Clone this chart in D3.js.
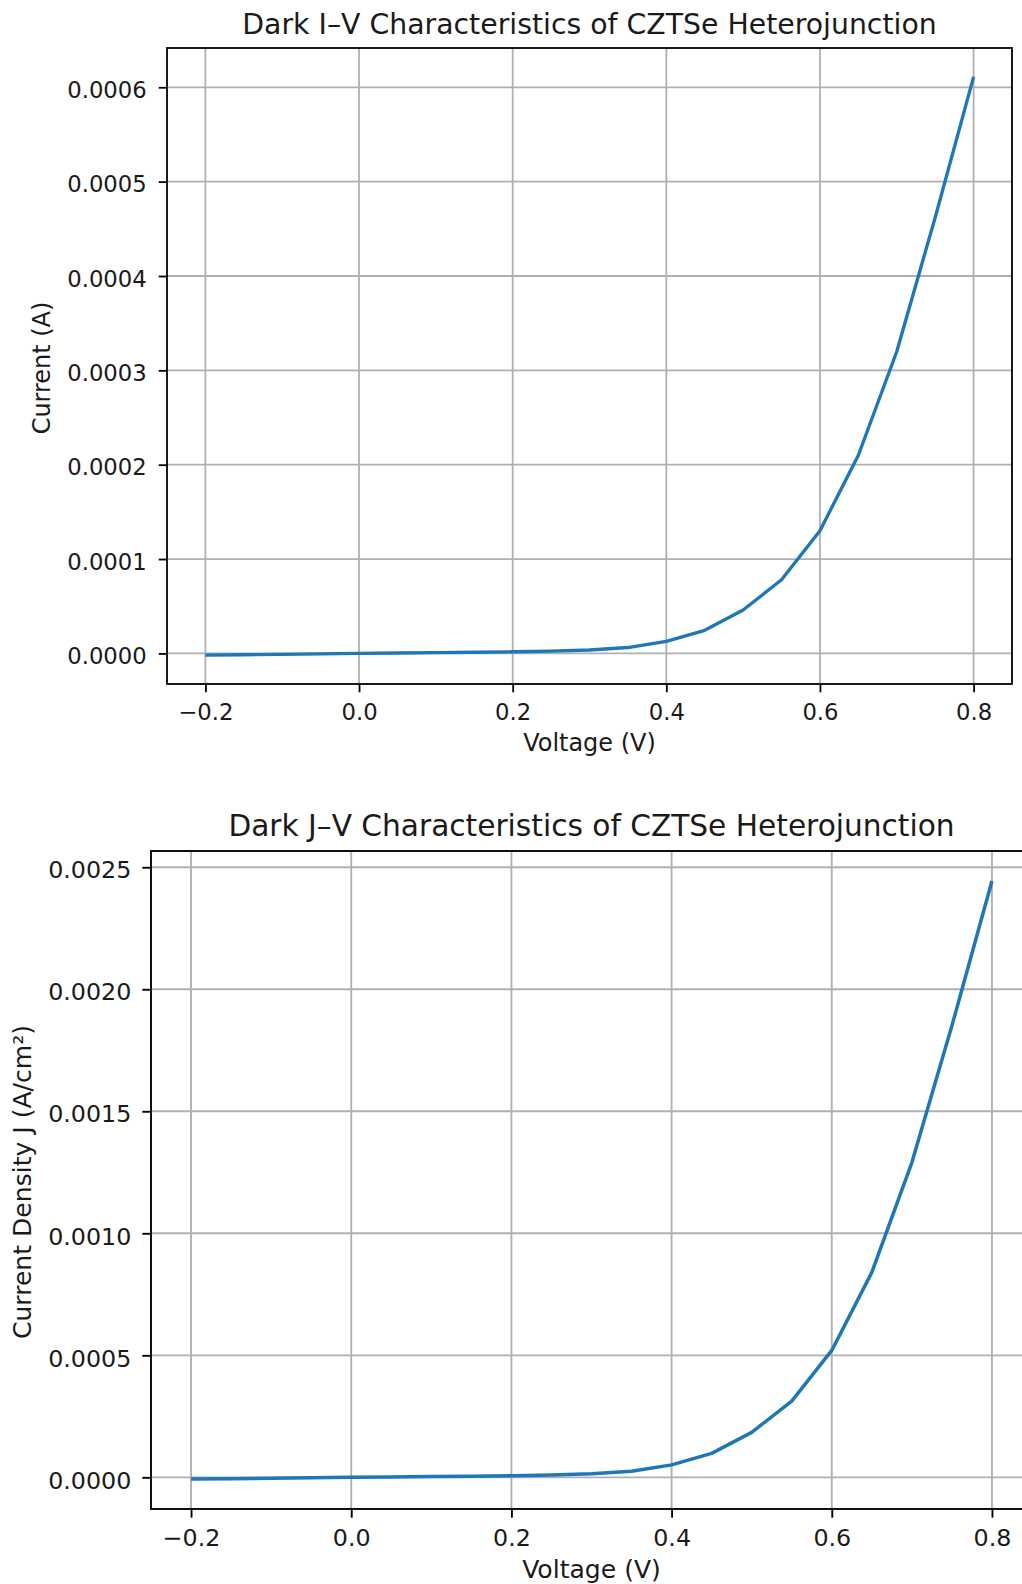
<!DOCTYPE html>
<html>
<head>
<meta charset="utf-8">
<script src="https://cdn.jsdelivr.net/npm/d3@7"></script>
<style>
  html, body { margin: 0; padding: 0; background: #fff; }
  svg { display: block; }
  text { font-family: "DejaVu Sans", sans-serif; fill: #1a1a1a; }
</style>
</head>
<body>
<svg id="fig" width="1022" height="1584"></svg>
<script>
// Bias voltage sweep (V)
const voltage = [-0.2, -0.15, -0.1, -0.05, 0.0, 0.05, 0.1, 0.15, 0.2, 0.25, 0.3,
                 0.35, 0.4, 0.45, 0.5, 0.55, 0.6, 0.65, 0.7, 0.75, 0.8];

// Dark current (A)
const current = [-1.8e-6, -1.4e-6, -1.0e-6, -0.5e-6, 0.0, 0.4e-6, 0.8e-6, 1.2e-6, 1.7e-6, 2.4e-6, 3.6e-6,
                 6.2e-6, 1.27e-5, 2.45e-5, 4.6e-5, 7.8e-5, 1.3e-4, 2.1e-4, 3.2e-4, 4.62e-4, 6.11e-4];

// Dark current density (A/cm²)
const currentDensity = [-7.2e-6, -5.6e-6, -4.0e-6, -2.0e-6, 0.0, 1.6e-6, 3.2e-6, 4.8e-6, 6.8e-6, 9.6e-6, 1.44e-5,
                        2.5e-5, 5.1e-5, 9.8e-5, 1.84e-4, 3.12e-4, 5.2e-4, 8.4e-4, 1.29e-3, 1.85e-3, 2.444e-3];

// Tick values
const voltageTicks = [-0.2, 0.0, 0.2, 0.4, 0.6, 0.8];
const currentTicks = [0.0, 0.0001, 0.0002, 0.0003, 0.0004, 0.0005, 0.0006];
const densityTicks = [0.0, 0.0005, 0.0010, 0.0015, 0.0020, 0.0025];

// Titles and axis labels
const titles = ["Dark I–V Characteristics of CZTSe Heterojunction",
                "Dark J–V Characteristics of CZTSe Heterojunction"];
const xLabels = ["Voltage (V)", "Voltage (V)"];
const yLabels = ["Current (A)", "Current Density J (A/cm²)"];

const svg = d3.select("#fig");

// Pad an extent by 5% on both sides
function padded(ext) {
  const m = (ext[1] - ext[0]) * 0.05;
  return [ext[0] - m, ext[1] + m];
}

function drawPanel(p) {
  const s = p.scale;               // px per point
  const fTick = 10.15 * s, fTitle = 12.65 * s, fLabel = 10.7 * s;
  const tickLen = 3.7 * s, lw = 0.8 * s;

  const x = d3.scaleLinear().domain(padded(d3.extent(p.xs))).range([p.left, p.right]);
  const y = d3.scaleLinear().domain(padded(d3.extent(p.ys))).range([p.bottom, p.top]);

  const g = svg.append("g");
  const clipId = "clip" + p.id;
  g.append("clipPath").attr("id", clipId)
    .append("rect").attr("x", p.left).attr("y", p.top)
    .attr("width", p.right - p.left).attr("height", p.bottom - p.top);

  // grid
  const grid = g.append("g").attr("clip-path", `url(#${clipId})`);
  grid.selectAll("line.gx").data(p.xTicks).join("line")
    .attr("x1", d => x(d)).attr("x2", d => x(d))
    .attr("y1", p.top).attr("y2", p.bottom)
    .attr("stroke", "#b0b0b0").attr("stroke-width", lw);
  grid.selectAll("line.gy").data(p.yTicks).join("line")
    .attr("x1", p.left).attr("x2", p.right)
    .attr("y1", d => y(d)).attr("y2", d => y(d))
    .attr("stroke", "#b0b0b0").attr("stroke-width", lw);

  // data line
  const line = d3.line().x((d, i) => x(p.xs[i])).y(d => y(d));
  grid.append("path").datum(p.ys)
    .attr("d", line).attr("fill", "none")
    .attr("stroke", "#1f77b4").attr("stroke-width", 1.5 * s)
    .attr("stroke-linejoin", "round").attr("stroke-linecap", "butt");

  // axes
  const xAxis = d3.axisBottom(x).tickValues(p.xTicks).tickFormat(d3.format(".1f"))
    .tickSize(tickLen).tickPadding(p.xPad);
  const xg = g.append("g").attr("transform", `translate(0,${p.bottom})`).call(xAxis);
  const yAxis = d3.axisLeft(y).tickValues(p.yTicks).tickFormat(d3.format(".4f"))
    .tickSize(tickLen).tickPadding(p.yPad);
  const yg = g.append("g").attr("transform", `translate(${p.left},0)`).call(yAxis);

  [xg, yg].forEach(a => {
    a.select(".domain").remove();
    a.selectAll(".tick line").attr("stroke", "#000").attr("stroke-width", lw);
    a.selectAll(".tick text").attr("font-size", fTick)
      .attr("font-family", "DejaVu Sans").attr("fill", "#1a1a1a");
  });
  yg.selectAll(".tick text").attr("dy", "0.45em");

  // spines
  g.append("rect").attr("x", p.left).attr("y", p.top)
    .attr("width", p.right - p.left).attr("height", p.bottom - p.top)
    .attr("fill", "none").attr("stroke", "#000").attr("stroke-width", lw);

  // title
  g.append("text").attr("x", (p.left + p.right) / 2).attr("y", p.titleY)
    .attr("text-anchor", "middle").attr("font-size", fTitle).text(p.title);

  // x label
  g.append("text").attr("x", (p.left + p.right) / 2).attr("y", p.xLabelY)
    .attr("text-anchor", "middle").attr("font-size", fLabel).text(p.xLabel);

  // y label
  g.append("text")
    .attr("transform", `translate(${p.yLabelX},${(p.top + p.bottom) / 2 + 2}) rotate(-90)`)
    .attr("text-anchor", "middle").attr("font-size", fLabel).text(p.yLabel);
}

drawPanel({
  id: 0, scale: 2.24,
  left: 167, right: 1012, top: 48, bottom: 684,
  xs: voltage, ys: current,
  xTicks: voltageTicks, yTicks: currentTicks,
  xPad: 11.5, yPad: 12,
  title: titles[0], titleY: 34, xLabel: xLabels[0], xLabelY: 751,
  yLabel: yLabels[0], yLabelX: 50
});

drawPanel({
  id: 1, scale: 2.343,
  left: 151, right: 1032, top: 851, bottom: 1509,
  xs: voltage, ys: currentDensity,
  xTicks: voltageTicks, yTicks: densityTicks,
  xPad: 11.5, yPad: 11,
  title: titles[1], titleY: 836, xLabel: xLabels[1], xLabelY: 1578,
  yLabel: yLabels[1], yLabelX: 31
});
</script>
</body>
</html>
